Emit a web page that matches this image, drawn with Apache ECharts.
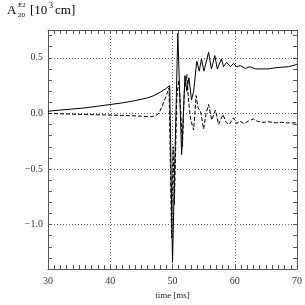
<!DOCTYPE html>
<html>
<head>
<meta charset="utf-8">
<script src="https://cdn.jsdelivr.net/npm/echarts@6/dist/echarts.min.js"></script>
<style>
html,body{margin:0;padding:0;background:#fff;}
#chart{width:305px;height:305px;}
</style>
</head>
<body>
<div id="chart"></div>
<script>
// time [ms]
const solidT = [30,32,34,36,38,40,42,44,46,47,48,49,49.55,50.0,50.85,51.47,52.0,52.3,52.65,53.05,53.4,53.9,54.3,54.65,55.05,55.8,56.25,56.8,57.2,57.85,58.2,58.7,59.3,59.8,60.3,60.9,61.7,62.5,63.3,64.3,65.4,66.5,67.5,68.6,70];
const solidV = [0.02,0.03,0.04,0.05,0.065,0.08,0.095,0.115,0.14,0.16,0.19,0.225,0.25,-1.34,0.72,-0.37,0.34,0.2,0.32,0.12,0.2,0.47,0.38,0.49,0.38,0.55,0.40,0.52,0.40,0.49,0.42,0.46,0.42,0.45,0.42,0.43,0.405,0.42,0.40,0.40,0.40,0.41,0.415,0.42,0.44];
const dashT = [30,33,36,40,43,45,46.5,47.3,47.8,48.3,48.8,49.2,49.45,49.85,50.1,50.3,50.7,51.0,51.3,51.6,51.9,52.3,52.6,52.9,53.4,53.8,54.1,54.5,55.0,55.4,55.8,56.3,56.9,57.4,58.1,58.6,59.1,59.8,60.3,60.8,61.5,62.2,63.0,63.6,64.5,65.5,66.5,67.5,68.5,70];
const dashV = [0.0,-0.005,-0.01,-0.015,-0.02,-0.025,-0.03,-0.02,0.0,0.06,0.13,0.19,0.23,-1.12,-0.3,-0.82,0.15,0.3,0.05,-0.3,0.2,0.35,0.1,-0.05,-0.15,0.16,0.05,0.02,-0.14,0.0,0.08,-0.06,0.03,-0.1,-0.01,-0.08,-0.1,-0.04,-0.09,-0.07,-0.09,-0.07,-0.05,-0.07,-0.08,-0.075,-0.085,-0.08,-0.085,-0.085];
const xTickLabels = ['30','40','50','60','70'];
const yTickLabels = ['\u22121.0','\u22120.5','0.0','0.5'];
const yTickValues = [-1.0,-0.5,0.0,0.5];

const serif = 'Liberation Serif';
const axisColor = '#555';

function yLabel(v){
  for (let i = 0; i < yTickValues.length; i++) {
    if (Math.abs(v - yTickValues[i]) < 1e-6) return yTickLabels[i];
  }
  return '';
}
function xLabel(v){
  const s = String(Math.round(v));
  return xTickLabels.indexOf(s) >= 0 ? s : '';
}

const chart = echarts.init(document.getElementById('chart'), null, {renderer:'canvas'});
const yCommon = {
  type:'value', min:-1.4, max:0.75, interval:0.1,
  axisLine:{show:true, onZero:false, lineStyle:{color:axisColor, width:1}},
  axisTick:{show:true, inside:true, length:4, lineStyle:{color:axisColor}},
};
const xCommon = {
  type:'value', min:30, max:70, interval:10,
  axisLine:{show:true, onZero:false, lineStyle:{color:axisColor, width:1}},
  axisTick:{show:true, inside:true, length:4, lineStyle:{color:axisColor}},
  minorTick:{show:true, splitNumber:10, length:4, lineStyle:{color:axisColor}},
};
chart.setOption({
  animation:false,
  backgroundColor:'#fff',
  grid:{left:48, right:6, top:30, bottom:31, containLabel:false},
  xAxis:[
    Object.assign({}, xCommon, {
      position:'bottom',
      name:'time [ms]', nameLocation:'middle', nameGap:19,
      nameTextStyle:{fontFamily:serif, fontSize:9, color:'#222'},
      axisLabel:{show:true, margin:7, fontFamily:serif, fontSize:10, color:'#333', formatter:xLabel},
      splitLine:{show:true, lineStyle:{color:'#666', type:[1,2], width:1}}
    }),
    Object.assign({}, xCommon, {
      position:'top',
      axisLabel:{show:false}, splitLine:{show:false}
    })
  ],
  yAxis:[
    Object.assign({}, yCommon, {
      position:'left',
      axisLabel:{show:true, margin:5, fontFamily:serif, fontSize:10, color:'#333', formatter:yLabel},
      splitLine:{show:true, lineStyle:{color:['rgba(0,0,0,0)','rgba(0,0,0,0)','rgba(0,0,0,0)','rgba(0,0,0,0)','#666'], type:[1,2], width:1}}
    }),
    Object.assign({}, yCommon, {
      position:'right',
      axisLabel:{show:false}, splitLine:{show:false}
    })
  ],
  graphic:[
    {type:'text', left:7, top:4, style:{text:'A', font:'13px "Liberation Serif"', fill:'#000'}},
    {type:'text', left:18, top:2, style:{text:'E2', font:'7px "Liberation Serif"', fill:'#000'}},
    {type:'text', left:18, top:12, style:{text:'20', font:'7px "Liberation Serif"', fill:'#000'}},
    {type:'text', left:30, top:4, style:{text:'[10', font:'13px "Liberation Serif"', fill:'#000'}},
    {type:'text', left:49, top:2, style:{text:'3', font:'8px "Liberation Serif"', fill:'#000'}},
    {type:'text', left:55, top:4, style:{text:'cm]', font:'13px "Liberation Serif"', fill:'#000'}}
  ],
  series:[
    {type:'line', xAxisIndex:0, yAxisIndex:0, showSymbol:false, symbol:'none',
     data: solidT.map((t,i)=>[t, solidV[i]]),
     lineStyle:{color:'#000', width:1}},
    {type:'line', xAxisIndex:0, yAxisIndex:0, showSymbol:false, symbol:'none',
     data: dashT.map((t,i)=>[t, dashV[i]]),
     lineStyle:{color:'#000', width:1, type:[4,2]}}
  ]
});
</script>
</body>
</html>
